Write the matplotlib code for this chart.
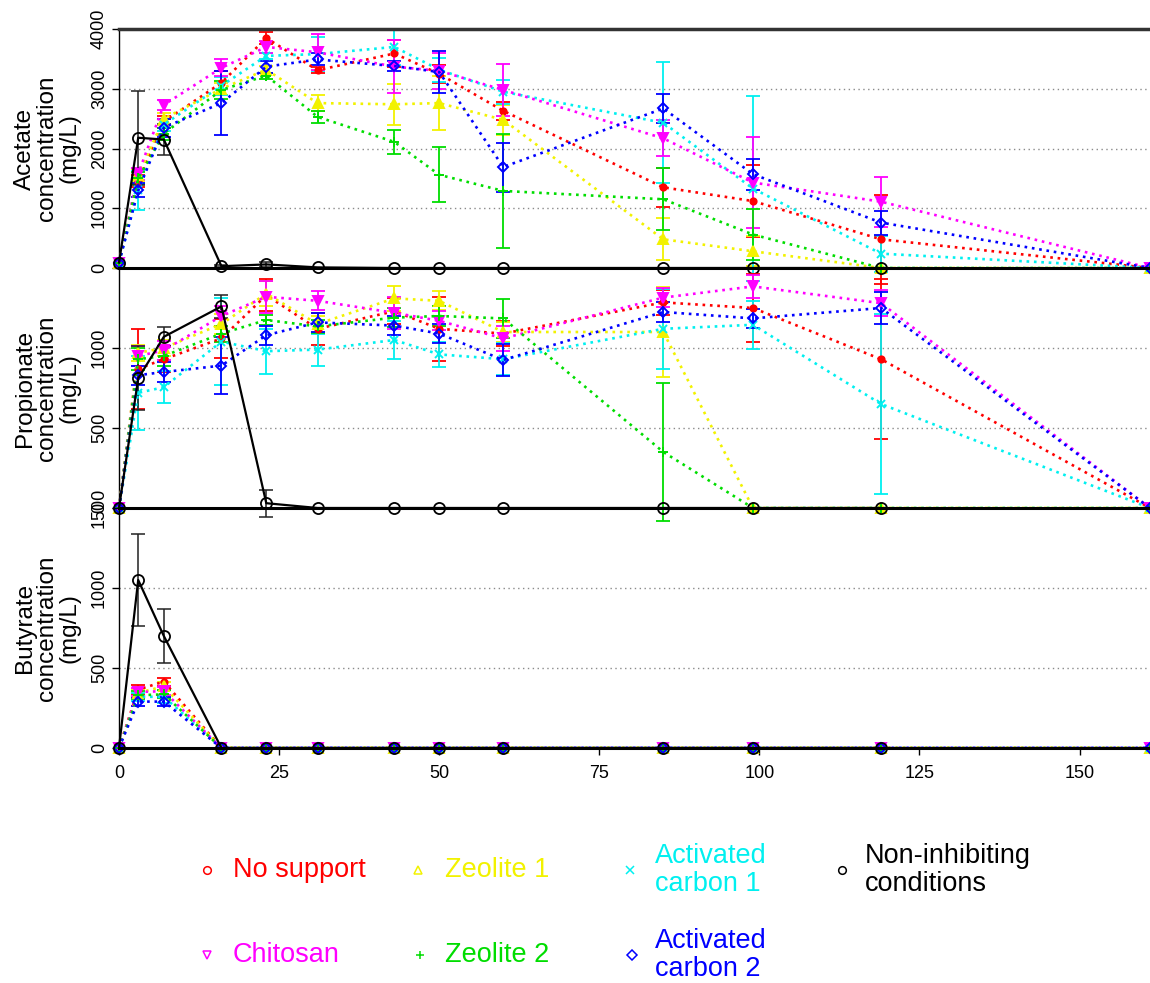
import matplotlib
matplotlib.use("Agg")
import matplotlib.pyplot as plt
from matplotlib.lines import Line2D

plt.rcParams['font.family'] = ['Liberation Sans', 'DejaVu Sans']

# ---------------- data ----------------
times = [0, 3, 7, 16, 23, 31, 43, 50, 60, 85, 99, 119, 161]
times_ref = times[:12]

series_names = ['No support', 'Zeolite 1', 'Activated\ncarbon 1',
                'Chitosan', 'Zeolite 2', 'Activated\ncarbon 2']
ref_name = 'Non-inhibiting\nconditions'

# Acetate (mg/L)
acetate_mean = {
    'No support':         [90, 1450, 2450, 3100, 3850, 3310, 3590, 3250, 2630, 1350, 1120, 480, 0],
    'Zeolite 1':          [90, 1550, 2500, 3000, 3320, 2760, 2740, 2760, 2480, 480, 280, 0, 0],
    'Activated\ncarbon 1': [90, 1300, 2400, 3050, 3550, 3580, 3700, 3320, 2950, 2430, 1330, 240, 0],
    'Chitosan':           [90, 1580, 2730, 3350, 3700, 3610, 3370, 3300, 2980, 2170, 1430, 1110, 0],
    'Zeolite 2':          [90, 1500, 2250, 2980, 3220, 2530, 2110, 1560, 1290, 1150, 560, 0, 0],
    'Activated\ncarbon 2': [90, 1300, 2350, 2760, 3370, 3490, 3380, 3280, 1690, 2670, 1570, 760, 0],
}
acetate_err = {
    'No support':         [0, 100, 100, 200, 100, 50, 230, 150, 150, 330, 600, 750, 0],
    'Zeolite 1':          [0, 100, 100, 100, 60, 130, 340, 450, 250, 350, 250, 0, 0],
    'Activated\ncarbon 1': [0, 330, 100, 150, 50, 280, 300, 200, 200, 1010, 1550, 300, 0],
    'Chitosan':           [0, 100, 80, 140, 100, 300, 440, 300, 430, 300, 760, 420, 0],
    'Zeolite 2':          [0, 100, 100, 150, 50, 100, 200, 460, 960, 520, 430, 0, 0],
    'Activated\ncarbon 2': [0, 120, 150, 540, 100, 100, 80, 350, 410, 250, 260, 200, 0],
}
acetate_ref_mean = [90, 2180, 2150, 30, 60, 10, 0, 0, 0, 0, 0, 0]
acetate_ref_err = [0, 790, 260, 20, 40, 0, 0, 0, 0, 0, 0, 0]

# Propionate (mg/L)
propionate_mean = {
    'No support':         [0, 870, 930, 1060, 1330, 1120, 1230, 1120, 1090, 1285, 1250, 930, 0],
    'Zeolite 1':          [0, 970, 1000, 1150, 1340, 1150, 1310, 1295, 1100, 1100, 0, 0, 0],
    'Activated\ncarbon 1': [0, 720, 755, 1040, 980, 990, 1050, 960, 930, 1120, 1145, 650, 0],
    'Chitosan':           [0, 950, 985, 1200, 1320, 1295, 1220, 1170, 1060, 1315, 1385, 1280, 0],
    'Zeolite 2':          [0, 930, 950, 1090, 1175, 1135, 1190, 1200, 1185, 350, 0, 0, 0],
    'Activated\ncarbon 2': [0, 830, 850, 890, 1080, 1160, 1140, 1090, 925, 1225, 1185, 1250, 0],
}
propionate_err = {
    'No support':         [0, 250, 80, 120, 100, 100, 80, 200, 80, 80, 210, 500, 0],
    'Zeolite 1':          [0, 50, 50, 60, 80, 50, 80, 60, 60, 280, 0, 0, 0],
    'Activated\ncarbon 1': [0, 230, 100, 270, 140, 100, 120, 80, 100, 250, 150, 560, 0],
    'Chitosan':           [0, 60, 60, 60, 100, 60, 100, 60, 80, 60, 70, 80, 0],
    'Zeolite 2':          [0, 70, 60, 50, 30, 40, 60, 60, 120, 430, 0, 0, 0],
    'Activated\ncarbon 2': [0, 60, 60, 180, 60, 60, 60, 60, 100, 60, 60, 100, 0],
}
propionate_ref_mean = [0, 810, 1070, 1260, 30, 0, 0, 0, 0, 0, 0, 0]
propionate_ref_err = [0, 200, 60, 70, 85, 0, 0, 0, 0, 0, 0, 0]

# Butyrate (mg/L)
butyrate_mean = {
    'No support':         [0, 365, 415, 0, 0, 0, 0, 0, 0, 0, 0, 0, 0],
    'Zeolite 1':          [0, 345, 385, 0, 0, 0, 0, 0, 0, 0, 0, 0, 0],
    'Activated\ncarbon 1': [0, 320, 320, 0, 0, 0, 0, 0, 0, 0, 0, 0, 0],
    'Chitosan':           [0, 350, 355, 0, 0, 0, 0, 0, 0, 0, 0, 0, 0],
    'Zeolite 2':          [0, 330, 335, 0, 0, 0, 0, 0, 0, 0, 0, 0, 0],
    'Activated\ncarbon 2': [0, 290, 290, 0, 0, 0, 0, 0, 0, 0, 0, 0, 0],
}
butyrate_err = {
    'No support':         [0, 30, 25, 0, 0, 0, 0, 0, 0, 0, 0, 0, 0],
    'Zeolite 1':          [0, 25, 25, 0, 0, 0, 0, 0, 0, 0, 0, 0, 0],
    'Activated\ncarbon 1': [0, 25, 40, 0, 0, 0, 0, 0, 0, 0, 0, 0, 0],
    'Chitosan':           [0, 25, 25, 0, 0, 0, 0, 0, 0, 0, 0, 0, 0],
    'Zeolite 2':          [0, 25, 25, 0, 0, 0, 0, 0, 0, 0, 0, 0, 0],
    'Activated\ncarbon 2': [0, 25, 30, 0, 0, 0, 0, 0, 0, 0, 0, 0, 0],
}
butyrate_ref_mean = [0, 1050, 700, 0, 0, 0, 0, 0, 0, 0, 0, 0]
butyrate_ref_err = [0, 285, 170, 0, 0, 0, 0, 0, 0, 0, 0, 0]

panel_labels = ['Acetate\nconcentration\n(mg/L)',
                'Propionate\nconcentration\n(mg/L)',
                'Butyrate\nconcentration\n(mg/L)']
panel_yticks = [[0, 1000, 2000, 3000, 4000], [0, 500, 1000], [0, 500, 1000, 1500]]
panel_ylims = [(0, 4000), (0, 1500), (0, 1500)]
panel_grid = [[1000, 2000, 3000], [500, 1000], [500, 1000]]
xticks = [0, 25, 50, 75, 100, 125, 150]

# ---------------- style ----------------
colors = {
    'No support': '#FF0000',
    'Zeolite 1': '#F2F200',
    'Activated\ncarbon 1': '#00F0F0',
    'Chitosan': '#FF00FF',
    'Zeolite 2': '#00DD00',
    'Activated\ncarbon 2': '#0000FF',
}
markers = {
    'No support': ('o', 4.5, True),
    'Zeolite 1': ('^', 6.5, True),
    'Activated\ncarbon 1': ('x', 5.5, False),
    'Chitosan': ('v', 6.5, True),
    'Zeolite 2': ('+', 7, False),
    'Activated\ncarbon 2': ('D', 5, False),
}
legend_markers = {
    'No support': 'o', 'Zeolite 1': '^', 'Activated\ncarbon 1': 'x',
    'Chitosan': 'v', 'Zeolite 2': '+', 'Activated\ncarbon 2': 'D',
}

W, H = 1150, 983
fig = plt.figure(figsize=(W / 100, H / 100), dpi=100)

left_px, right_px = 119, 1150
panel_px = [(29, 268), (268, 508), (508, 748)]

means = [acetate_mean, propionate_mean, butyrate_mean]
errs = [acetate_err, propionate_err, butyrate_err]
ref_means = [acetate_ref_mean, propionate_ref_mean, butyrate_ref_mean]
ref_errs = [acetate_ref_err, propionate_ref_err, butyrate_ref_err]


def draw_err(ax, t, v, e, color, lw=1.3):
    tt = [a for a, b in zip(t, e) if b > 0]
    vv = [a for a, b in zip(v, e) if b > 0]
    ee = [b for b in e if b > 0]
    if not tt:
        return
    cont = ax.errorbar(tt, vv, yerr=ee, fmt='none', ecolor=color,
                       elinewidth=lw, capsize=5, capthick=lw, zorder=2)
    for art in list(cont.lines[1]) + list(cont.lines[2]):
        art.set_clip_on(False)


for i, (top, bot) in enumerate(panel_px):
    ax = fig.add_axes([left_px / W, 1 - bot / H, (right_px - left_px) / W, (bot - top) / H])
    ax.set_xlim(0, 161)
    ax.set_ylim(*panel_ylims[i])
    for g in panel_grid[i]:
        ax.axhline(g, color='#8a8a8a', ls=(0, (1, 2.5)), lw=1.0, zorder=0)

    for name in series_names:
        draw_err(ax, times, means[i][name], errs[i][name], colors[name])
    for name in series_names:
        c = colors[name]
        m, ms, filled = markers[name]
        ax.plot(times, means[i][name], ls=(0, (1, 1.8)), lw=1.9, color=c,
                marker=m, ms=ms, mfc=c if filled else 'none', mec=c,
                mew=1.4, zorder=3, clip_on=False)
    draw_err(ax, times_ref, ref_means[i], ref_errs[i], '#222222', lw=1.1)
    ax.plot(times_ref, ref_means[i], ls='-', lw=1.6, color='black', marker='o',
            ms=8, mfc='none', mec='black', mew=1.3, zorder=4, clip_on=False)

    ax.set_yticks(panel_yticks[i])
    ax.set_yticklabels([str(v) for v in panel_yticks[i]])
    ax.tick_params(axis='y', labelrotation=90, labelsize=13, length=5, width=1,
                   pad=3)
    for lab in ax.get_yticklabels():
        lab.set_va('center')
    ax.spines['right'].set_visible(False)
    ax.spines['left'].set_linewidth(1.0)
    ax.spines['bottom'].set_linewidth(2.2)
    ax.spines['bottom'].set_zorder(5)
    if i == 0:
        ax.spines['top'].set_linewidth(2.5)
        ax.spines['top'].set_color('#333333')
    else:
        ax.spines['top'].set_visible(False)
    if i < 2:
        ax.tick_params(axis='x', bottom=False, labelbottom=False)
    else:
        ax.set_xticks(xticks)
        ax.set_xticklabels([str(x) for x in xticks])
        ax.tick_params(axis='x', labelsize=13, length=5, width=1, pad=7)
    ax.patch.set_alpha(0)

    yc = 1 - (top + bot) / 2 / H
    fig.text(47 / W, yc, panel_labels[i], rotation=90, ha='center', va='center',
             fontsize=17.5, linespacing=1.0, multialignment='center')

# ---------------- legend ----------------
legend_layout = [
    ('No support', 207, 233, 870),
    ('Zeolite 1', 418, 445, 870),
    ('Activated\ncarbon 1', 630, 655, 870),
    ('Chitosan', 207, 233, 955),
    ('Zeolite 2', 420, 445, 955),
    ('Activated\ncarbon 2', 632, 655, 955),
]
for name, mx, tx, y in legend_layout:
    c = colors[name]
    fig.add_artist(Line2D([mx / W], [1 - y / H], marker=legend_markers[name], ms=5.5,
                          mfc='none', mec=c, mew=1.1, ls='none',
                          transform=fig.transFigure))
    fig.text(tx / W, 1 - y / H, name, color=c, fontsize=19.5, ha='left',
             va='center', linespacing=1.1)
fig.add_artist(Line2D([842 / W], [1 - 870 / H], marker='o', ms=5.5, mfc='none',
                      mec='black', mew=1.1, ls='none', transform=fig.transFigure))
fig.text(865 / W, 1 - 870 / H, ref_name, color='black', fontsize=19.5, ha='left',
         va='center', linespacing=1.1)

fig.savefig('out.png', dpi=100)
